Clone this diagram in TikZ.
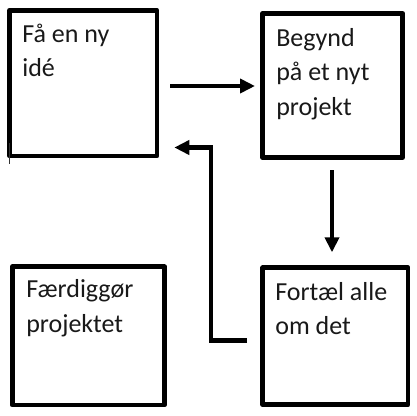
\documentclass[tikz,border=0pt]{standalone}
\usepackage{fontspec}
\setmainfont{Carlito}
\usetikzlibrary{arrows.meta}
\tikzset{
  box/.style={draw=black, line width=4.7pt, rectangle, inner sep=0pt, line join=round, fill=white},
  lbl/.style={anchor=base west, inner sep=0pt, align=left, font=\fontsize{26}{34.5}\selectfont, text=black!90},
  arr/.style={draw=black, line width=4.6pt, -{Triangle[length=15pt,width=14pt]}}
}
\begin{document}
\begin{tikzpicture}[x=1pt,y=-1pt]
\useasboundingbox (0,0) rectangle (417,415);
\node[box, minimum width=147.5pt, minimum height=145.7pt] (A) at (83.25,83.15) {};
\node[box, minimum width=140pt, minimum height=144pt] (B) at (332.7,85.5) {};
\node[box, minimum width=152.2pt, minimum height=138.2pt] (C) at (88.4,335.9) {};
\node[box, minimum width=145.2pt, minimum height=136.9pt] (D) at (335.4,336.25) {};
% base anchor of a multi-line node is the baseline of its last line
\node[lbl] (tA) at (22.1,76.7) {Få en ny\\idé};
\node[lbl] (tB) at (276.1,115.2) {Begynd\\på et nyt\\projekt};
\node[lbl] (tC) at (26.1,332.3) {Færdiggør\\projektet};
\node[lbl] (tD) at (275.1,334.8) {Fortæl alle\\om det};
\draw[arr] ([shift={(10.65,2.85)}]A.east) -- ([shift={(-5.35,0.5)}]B.west);
\draw[arr] ([shift={(-0.7,10.15)}]B.south) -- ([shift={(-0.7,-13.15)}]B.south |- D.north);
\draw[arr] ([shift={(-13.45,4.25)}]D.west) -- ++(-36.2,0) |- ([shift={(14.95,64.35)}]A.east);
\coordinate (cur) at ([shift={(1.95,134.9)}]A.north west);
\draw[line width=0.8pt, black!80] (cur) -- ++(0,21);
\end{tikzpicture}
\end{document}
